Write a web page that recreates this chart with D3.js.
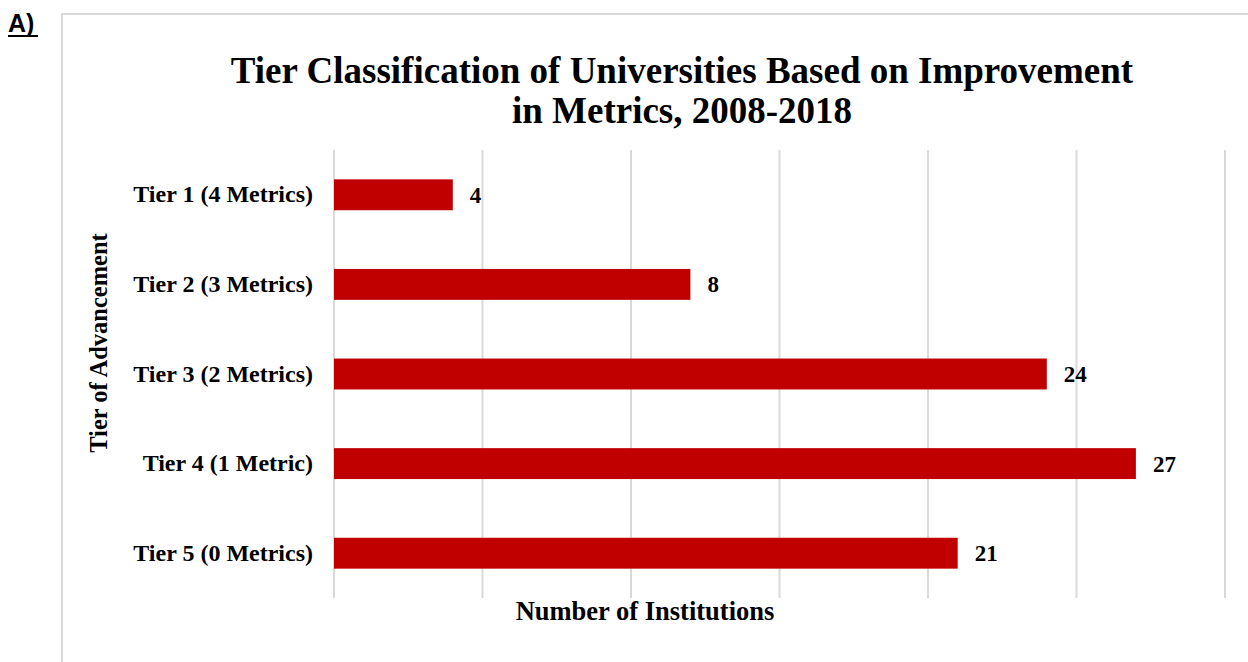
<!DOCTYPE html>
<html><head><meta charset="utf-8">
<script src="https://cdn.jsdelivr.net/npm/d3@7"></script>
<style>body{margin:0;background:#fff;}svg{display:block;}</style>
</head><body>
<svg id="chart" width="1248" height="662"></svg>
<script>
const categories = ["Tier 1 (4 Metrics)", "Tier 2 (3 Metrics)", "Tier 3 (2 Metrics)", "Tier 4 (1 Metric)", "Tier 5 (0 Metrics)"];
// bar lengths as drawn in the picture (Tier 2 bar is drawn to 12 while labelled 8)
const values = [4, 12, 24, 27, 21];
const valueLabels = ["4", "8", "24", "27", "21"];
const xTicks = [0, 5, 10, 15, 20, 25, 30];
const titleLines = ["Tier Classification of Universities Based on Improvement", "in Metrics, 2008-2018"];
const xTitle = "Number of Institutions";
const yTitle = "Tier of Advancement";
const panelLabel = "A)";

const svg = d3.select("#chart");
const serif = "'Liberation Serif','Times New Roman',serif";

// frame
svg.append("rect").attr("x", 62).attr("y", 14).attr("width", 1300).attr("height", 700)
  .attr("fill", "none").attr("stroke", "#d9d9d9").attr("stroke-width", 2);

// panel label
svg.append("text").attr("x", 8).attr("y", 32).text(panelLabel)
  .attr("font-family", "'Liberation Sans',Arial,sans-serif").attr("font-weight", "bold")
  .attr("font-size", 25).attr("fill", "#000");
svg.append("line").attr("x1", 8).attr("x2", 38).attr("y1", 36).attr("y2", 36)
  .attr("stroke", "#000").attr("stroke-width", 2);

const x = d3.scaleLinear().domain([0, 30]).range([334, 1225]);
const y = d3.scaleBand().domain(categories).range([150, 598]).paddingInner(0.655).paddingOuter(0.3275);

// gridlines
svg.append("g").selectAll("line").data(xTicks).join("line")
  .attr("x1", d => x(d)).attr("x2", d => x(d)).attr("y1", 150).attr("y2", 598)
  .attr("stroke", "#d9d9d9").attr("stroke-width", 2);

// title
svg.append("text").attr("text-anchor", "middle").attr("font-family", serif)
  .attr("font-weight", "bold").attr("font-size", 37).attr("fill", "#000")
  .selectAll("tspan").data(titleLines).join("tspan")
  .attr("x", 682).attr("y", (d, i) => 83 + i * 40).text(d => d);

// bars
svg.append("g").selectAll("rect").data(values).join("rect")
  .attr("x", x(0)).attr("y", (d, i) => y(categories[i]))
  .attr("width", d => x(d) - x(0)).attr("height", y.bandwidth())
  .attr("fill", "#c00000");

// value labels
svg.append("g").selectAll("text").data(values).join("text")
  .attr("x", d => x(d) + 17).attr("y", (d, i) => y(categories[i]) + y.bandwidth() / 2)
  .attr("dy", "0.35em").text((d, i) => valueLabels[i])
  .attr("font-family", serif).attr("font-weight", "bold").attr("font-size", 23).attr("fill", "#000");

// category labels
const yAxis = d3.axisLeft(y).tickSize(0).tickPadding(21);
const gy = svg.append("g").attr("transform", `translate(${x(0)},0)`).call(yAxis);
gy.select(".domain").remove();
gy.selectAll("text").attr("font-family", serif).attr("font-weight", "bold")
  .attr("font-size", 24).attr("fill", "#000");

// axis titles
svg.append("text").attr("x", 645).attr("y", 620).attr("text-anchor", "middle").text(xTitle)
  .attr("font-family", serif).attr("font-weight", "bold").attr("font-size", 26.5).attr("fill", "#000");
svg.append("text").attr("transform", "translate(107,343) rotate(-90)").attr("text-anchor", "middle").text(yTitle)
  .attr("font-family", serif).attr("font-weight", "bold").attr("font-size", 24.5).attr("fill", "#000");
</script>
</body></html>
